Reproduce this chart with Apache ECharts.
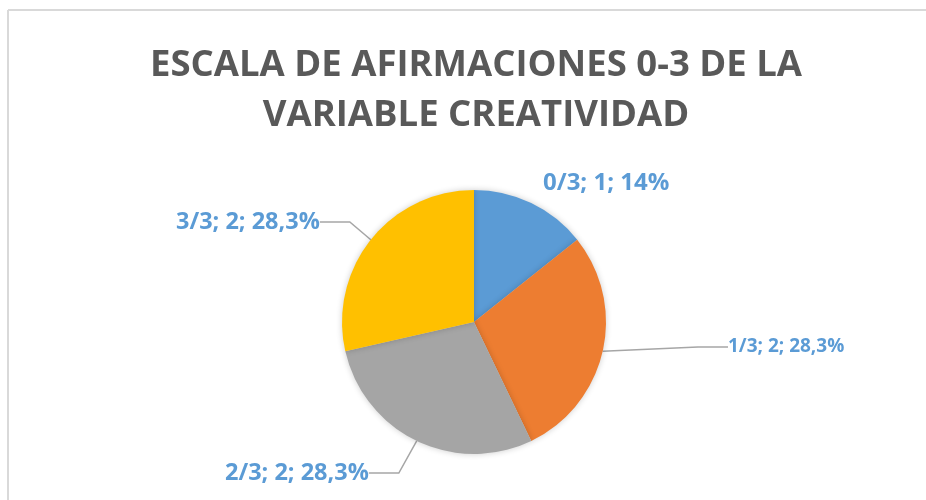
<!DOCTYPE html>
<html>
<head>
<meta charset="utf-8">
<script src="https://cdn.jsdelivr.net/npm/echarts@6/dist/echarts.min.js"></script>
<style>
  html, body { margin: 0; padding: 0; background: #fff; }
  #chart { width: 926px; height: 500px; }
</style>
</head>
<body>
<div id="chart"></div>
<script>
    "use strict";
    // datos del gráfico
    var titulo = 'ESCALA DE AFIRMACIONES 0-3 DE LA\nVARIABLE CREATIVIDAD';
    var categorias = ['0/3', '1/3', '2/3', '3/3'];
    var valores = [1, 2, 2, 2];
    var porcentajes = ['14%', '28,3%', '28,3%', '28,3%'];
    var colores = ['#5B9BD5', '#ED7D31', '#A5A5A5', '#FFC000'];

    // posiciones de las etiquetas (x, y, align)
    var etiquetas = [
        {x: 543, y: 183, align: 'left', size: 24},
        {x: 728, y: 347, align: 'left', size: 19},
        {x: 225, y: 473, align: 'left', size: 23.5},
        {x: 176, y: 222, align: 'left', size: 23.5}
    ];

    var data = [];
    for (var i = 0; i < categorias.length; i++) {
        data.push({
            name: categorias[i],
            value: valores[i],
            itemStyle: {color: colores[i]},
            label: {fontSize: etiquetas[i].size},
            labelLine: {show: i !== 0}
        });
    }

    var myChart = echarts.init(document.getElementById('chart'));
    var option = {
        backgroundColor: '#ffffff',
        animation: false,
        graphic: [
            {type: 'line', shape: {x1: 8, y1: 10, x2: 926, y2: 10}, style: {stroke: '#d9d9d9', lineWidth: 2}},
            {type: 'line', shape: {x1: 8, y1: 10, x2: 8, y2: 500}, style: {stroke: '#d9d9d9', lineWidth: 2}},
            {
                type: 'text',
                x: 476,
                y: 41,
                style: {
                    text: titulo,
                    align: 'center',
                    verticalAlign: 'top',
                    fontFamily: 'Open Sans',
                    fontWeight: 'bold',
                    fontSize: 36.5,
                    lineHeight: 50,
                    fill: '#595959'
                }
            }
        ],
        series: [
            {
                type: 'pie',
                center: [474, 322],
                radius: 132,
                startAngle: 90,
                clockwise: true,
                itemStyle: {
                    shadowBlur: 6,
                    shadowColor: 'rgba(0,0,0,0.2)'
                },
                label: {
                    show: true,
                    color: '#5B9BD5',
                    fontFamily: 'Open Sans',
                    fontWeight: 'bold',
                    formatter: function (p) {
                        return p.name + '; ' + p.value + '; ' + porcentajes[p.dataIndex];
                    }
                },
                labelLine: {
                    show: true,
                    lineStyle: {color: '#A6A6A6', width: 1.5}
                },
                labelLayout: function (p) {
                    var e = etiquetas[p.dataIndex];
                    return {x: e.x, y: e.y, align: e.align, verticalAlign: 'middle'};
                },
                data: data
            }
        ]
    };
    myChart.setOption(option);
</script>
</body>
</html>
